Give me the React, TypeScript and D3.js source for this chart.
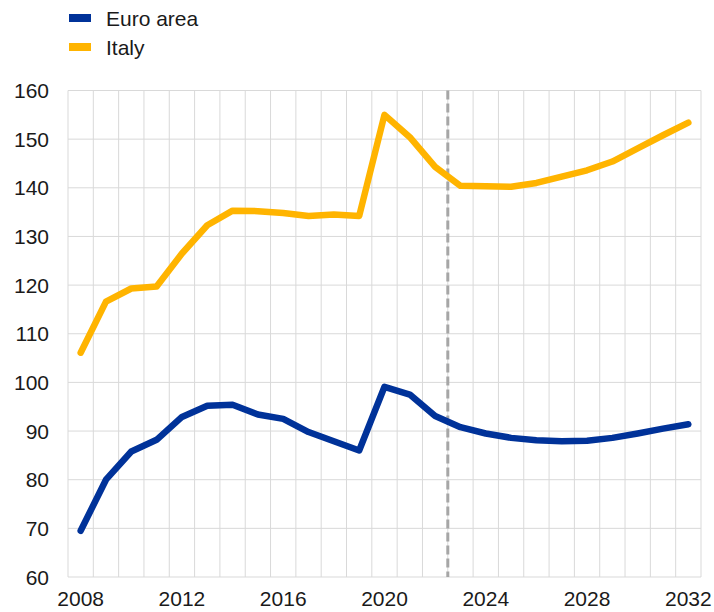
import { useMemo } from 'react'
import * as d3 from 'd3'

const years = d3.range(2008, 2033)
const xTickYears = [2008, 2012, 2016, 2020, 2024, 2028, 2032]
const yTicks = [60, 70, 80, 90, 100, 110, 120, 130, 140, 150, 160]
const projectionStart = 2023

const euroArea = [
  69.5, 80.0, 85.8, 88.2, 92.9, 95.2, 95.4, 93.4, 92.5, 89.8, 87.9, 86.0, 99.1,
  97.5, 93.1, 90.8, 89.5, 88.6, 88.1, 87.9, 88.0, 88.6, 89.5, 90.5, 91.4,
]
const italy = [
  106.1, 116.6, 119.3, 119.7, 126.5, 132.3, 135.3, 135.2, 134.8, 134.2, 134.5, 134.2, 155.0,
  150.4, 144.3, 140.4, 140.3, 140.2, 141.0, 142.3, 143.6, 145.4, 148.1, 150.8, 153.4,
]

const series = [
  { name: 'Euro area', color: '#003299', values: euroArea },
  { name: 'Italy', color: '#ffb400', values: italy },
]

const W = 714
const H = 612
const left = 68
const right = 701
const top = 90.5
const bottom = 577
const font = 'Liberation Sans, Arial, sans-serif'

export default function App() {
  const x = useMemo(() => d3.scaleBand<number>().domain(years).range([left, right]).padding(0), [])
  const y = useMemo(() => d3.scaleLinear().domain([60, 160]).range([bottom, top]), [])
  const cx = (yr: number) => (x(yr) ?? 0) + x.bandwidth() / 2

  const line = d3
    .line<number>()
    .x((_, i) => cx(years[i]))
    .y((d) => y(d))

  const gridX = [...years.map((yr) => x(yr) ?? 0), right]
  const dashX = x(projectionStart) ?? 0

  return (
    <svg width={W} height={H} style={{ position: 'absolute', left: 0, top: 0, display: 'block' }}>
      <rect width={W} height={H} fill="#fff" />
      {/* grid */}
      <g stroke="#d9d9d9" strokeWidth={1}>
        {gridX.map((gx, i) => (
          <line key={'v' + i} x1={gx} x2={gx} y1={top} y2={bottom} />
        ))}
        {yTicks.map((t) => (
          <line key={'h' + t} x1={left} x2={right} y1={y(t)} y2={y(t)} />
        ))}
      </g>
      {/* projection marker */}
      <line
        x1={dashX}
        x2={dashX}
        y1={top}
        y2={bottom}
        stroke="#a6a6a6"
        strokeWidth={3}
        strokeDasharray="9,4"
      />
      {series.map((s) => (
        <path
          key={s.name}
          d={line(s.values) ?? ''}
          fill="none"
          stroke={s.color}
          strokeWidth={6.5}
          strokeLinejoin="round"
          strokeLinecap="round"
        />
      ))}
      {/* y axis labels */}
      <g fontFamily={font} fontSize={21} fill="#1a1a1a" textAnchor="end">
        {yTicks.map((t) => (
          <text key={t} x={49} y={y(t)} dy="0.36em">
            {t}
          </text>
        ))}
      </g>
      {/* x axis labels */}
      <g fontFamily={font} fontSize={21} fill="#1a1a1a" textAnchor="middle">
        {xTickYears.map((yr) => (
          <text key={yr} x={cx(yr)} y={606}>
            {yr}
          </text>
        ))}
      </g>
      {/* legend */}
      <g fontFamily={font} fontSize={21} fill="#1a1a1a">
        {series.map((s, i) => (
          <g key={s.name} transform={`translate(69, ${14 + i * 29})`}>
            <rect width={22} height={8} fill={s.color} />
            <text x={37} y={11.5}>
              {s.name}
            </text>
          </g>
        ))}
      </g>
    </svg>
  )
}
